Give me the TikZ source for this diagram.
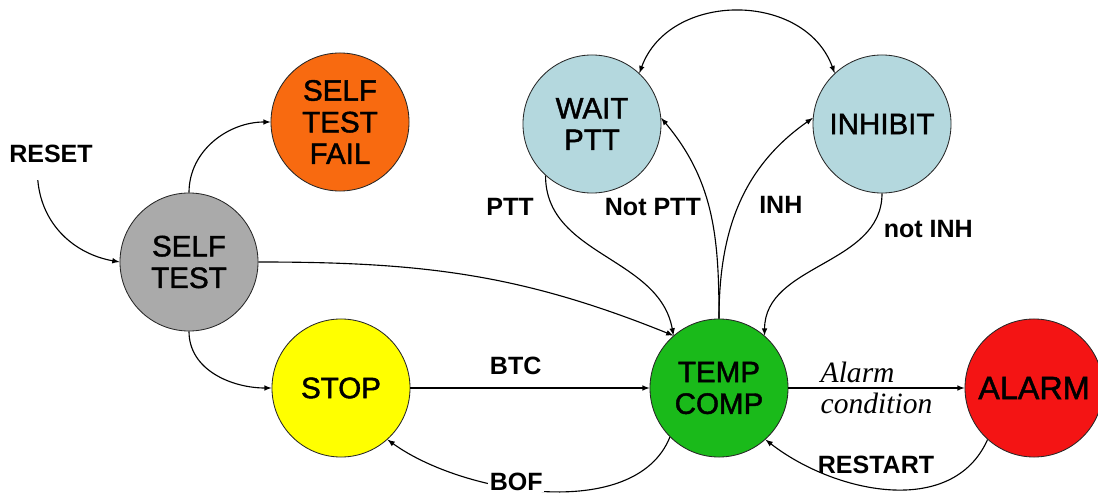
\documentclass[tikz,border=0pt]{standalone}
\usepackage{fontspec}
\usepackage{tikz}
\setmainfont{Liberation Sans}
\newfontfamily\statefont[FakeBold=1.5]{Liberation Sans}
\newfontfamily\serifit{Liberation Serif}

\definecolor{selfgray}{RGB}{170,170,170}
\definecolor{failorange}{RGB}{248,106,16}
\definecolor{idleblue}{RGB}{180,216,222}
\definecolor{stopyellow}{RGB}{255,255,0}
\definecolor{compgreen}{RGB}{26,186,26}
\definecolor{alarmred}{RGB}{244,20,20}

\tikzset{
    state/.style={circle, draw=black!85, line width=0.6pt, minimum size=3.45cm,
        inner sep=0pt, align=center, font=\statefont\fontsize{21}{22.5}\selectfont},
    transition/.style={draw=black, line width=0.8pt, -latex},
    cond/.style={font=\fontsize{17.8}{20}\selectfont\bfseries, inner sep=1pt}
}

\begin{document}
\begin{tikzpicture}[x=0.025cm, y=0.025cm]
\useasboundingbox (0,0) rectangle (1098,494);

% states
\node[state, fill=selfgray] (selftest) at (189,232) {SELF\\TEST};
\node[state, fill=failorange] (fail) at (340,372) {SELF\\TEST\\FAIL};
\node[state, fill=idleblue] (wait) at (592,370) {WAIT\\PTT};
\node[state, fill=idleblue] (inhibit) at (882,370) {INHIBIT};
\node[state, fill=stopyellow] (stop) at (341,106) {STOP};
\node[state, fill=compgreen] (temp) at (719,106) {TEMP\\COMP};
\node[state, fill=alarmred, font=\statefont\fontsize{23}{25}\selectfont] (alarm) at (1034,106) {ALARM};
\node[cond] (reset) at (51,340) {RESET};

% transitions
\draw[style={transition}]
  ([xshift=-0.33cm,yshift=-0.39cm]reset.south) to[out=-85, in=170] (selftest.west);
\draw[style={transition}] (selftest.north) to[out=90, in=180] (fail.west);
\draw[style={transition}] (selftest.south) to[out=-90, in=180] (stop.west);
\draw[style={transition}] (selftest.east) to[out=0, in=158] (temp.131);

\draw[style={transition}]
  (stop.east) -- node[cond, pos=0.44, above=0.27cm] {BTC} (temp.west);
\draw[style={transition}]
  (temp.east) -- node[pos=0.5, align=left, font=\serifit\itshape\fontsize{21}{22.5}\selectfont]
  {Alarm\\condition} (alarm.west);
\draw[style={transition}]
  (temp.225) to[out=-112, in=-36, looseness=0.84]
  node[cond, pos=0.58, fill=white, yshift=0.15cm] {BOF} (stop.-48);
\draw[style={transition}]
  (alarm.228) to[out=-114, in=-38]
  node[cond, pos=0.55, above=0.3cm] {RESTART} (temp.-48);

\draw[style={transition}]
  (wait.228) to[out=-90, in=100] node[cond, pos=0.15, left=0.42cm] {PTT} (temp.131);
\draw[style={transition}]
  (temp.north) to[out=90, in=-50] node[cond, pos=0.52, left=0.15cm] {Not PTT} (wait.5);
\draw[style={transition}]
  (temp.north) to[out=90, in=-145] node[cond, pos=0.5, right=0.45cm] {INH} (inhibit.175);
\draw[style={transition}]
  (inhibit.south) to[out=-90, in=90] node[cond, pos=0.2, right=0.3cm] {not INH} (temp.49);
\draw[style={transition}, latex-latex]
  (wait.47) to[out=70, in=110, looseness=1.15] (inhibit.133);
\end{tikzpicture}
\end{document}
